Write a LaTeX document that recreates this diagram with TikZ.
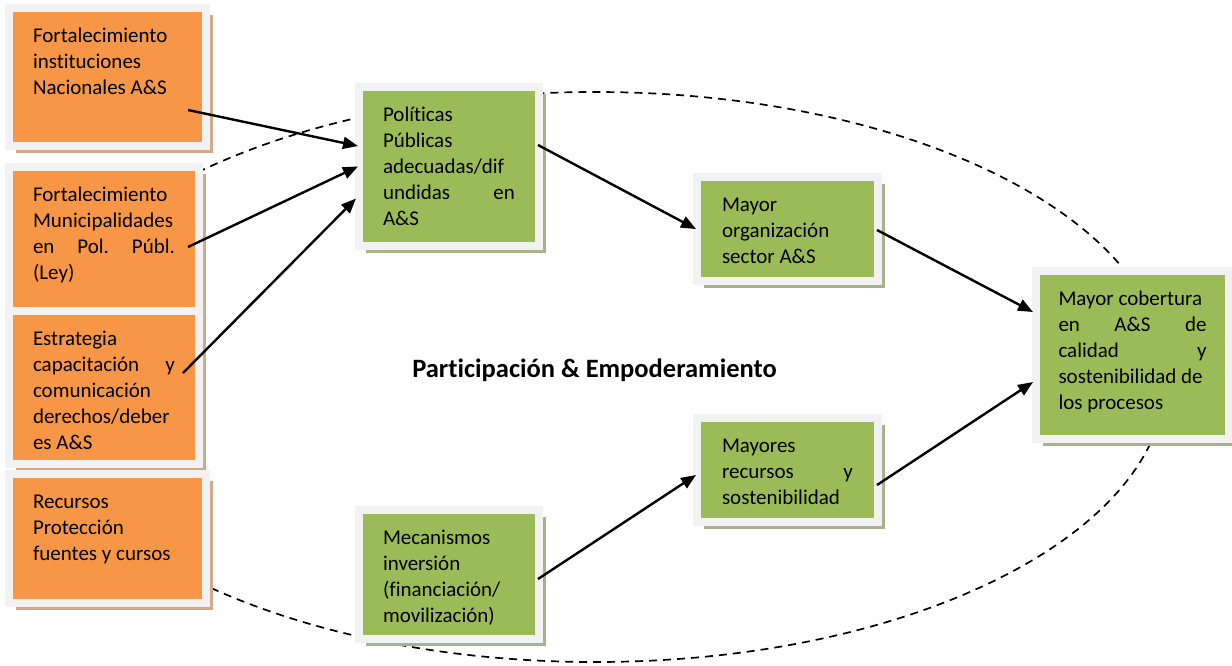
\documentclass[tikz,border=0pt]{standalone}
\usepackage{fontspec}
\setmainfont{Carlito}[Ligatures=NoCommon]
\usepackage{tikz}
\usetikzlibrary{arrows.meta,shadows}

\definecolor{boxorange}{HTML}{F79646}
\definecolor{boxgreen}{HTML}{9BBB59}
\definecolor{framegray}{HTML}{F2F2F2}
\definecolor{shadeorange}{HTML}{D3A98A}
\definecolor{shadegreen}{HTML}{A9B18F}

% text block: width, outer height of the box, lines
\newcommand{\cell}[3]{\parbox[c][\dimexpr#2pt-39.6pt\relax][t]{#1pt}{\strut#3}}

\tikzset{
  card/.style={rectangle, inner sep=0pt, draw=framegray, line width=8pt,
    font=\fontsize{21pt}{26pt}\selectfont},
  orangebox/.style={card, fill=boxorange,
    drop shadow={fill=shadeorange, opacity=1, shadow xshift=7pt, shadow yshift=-7pt}},
  greenbox/.style={card, fill=boxgreen,
    drop shadow={fill=shadegreen, opacity=1, shadow xshift=7pt, shadow yshift=-7pt}},
  flow/.style={line width=2.4pt, -{Triangle[length=15pt,width=12pt]}},
}

\begin{document}
\begin{tikzpicture}[x=1pt, y=-1pt]
    \useasboundingbox (0,0) rectangle (1232,665);
    % dashed field round the process
    \draw[dash pattern=on 8pt off 6pt, line width=1.7pt] (595,377) ellipse [x radius=571pt, y radius=285pt];

    % sources
    \node[orangebox, minimum width=197pt, minimum height=138pt] (fortInst) at (107.5,77)
        {\cell{149}{146}{Fortalecimiento\\instituciones\\Nacionales A\&S}};
    \node[orangebox, minimum width=190pt, minimum height=144pt] (fortMuni) at (104,239)
        {\cell{142}{152}{Fortalecimiento\\Municipalidades\\en\hspace{\fill}Pol.\hspace{\fill}Públ.\\(Ley)}};
    \node[orangebox, minimum width=190pt, minimum height=153pt] (estrategia) at (104,387.5)
        {\cell{142}{161}{Estrategia\\capacitación\hspace{\fill}y\\comunicación\\derechos/deber\\es A\&S}};
    \node[orangebox, minimum width=197pt, minimum height=129pt] (recProt) at (107.5,538.5)
        {\cell{149}{137}{Recursos\\Protección\\fuentes y cursos}};

    % results
    \node[greenbox, minimum width=180pt, minimum height=159pt] (politicas) at (449,166.5)
        {\cell{132}{167}{Políticas\\Públicas\\adecuadas/dif\\undidas\hspace{\fill}en\\A\&S}};
    \node[greenbox, minimum width=181pt, minimum height=104pt] (mayorOrg) at (787.5,229)
        {\cell{131}{112}{Mayor\\organización\\sector A\&S}};
    \node[greenbox, minimum width=180pt, minimum height=129pt] (mecanismos) at (449,574.5)
        {\cell{132}{137}{Mecanismos\\inversión\\(financiación/\\movilización)}};
    \node[greenbox, minimum width=181pt, minimum height=104pt] (mayRec) at (787.5,470)
        {\cell{131}{112}{Mayores\\recursos\hspace{\fill}y\\sostenibilidad}};
    \node[greenbox, minimum width=193pt, minimum height=168pt] (cobertura) at (1132.5,355)
        {\cell{148}{176}{Mayor cobertura\\en\hspace{\fill}A\&S\hspace{\fill}de\\calidad\hspace{\fill}y\\sostenibilidad de\\los procesos}};

    \node[anchor=base, font=\fontsize{26.5pt}{30pt}\selectfont\bfseries] (partEmp) at (594.5,377)
        {Participación \& Empoderamiento};

    \draw[flow] ([shift={(-22pt,-33pt)}]fortInst.east) -- ([shift={(3pt,20.5pt)}]politicas.west);
    \draw[flow] ([shift={(-15pt,-8pt)}]fortMuni.east) -- ([shift={(3pt,0pt)}]politicas.west);
    \draw[flow] ([shift={(-20pt,14.5pt)}]estrategia.east) -- ([shift={(1pt,-32pt)}]politicas.west);
    \draw[flow] ([shift={(-5pt,21.5pt)}]politicas.east) -- ([shift={(3pt,0pt)}]mayorOrg.west);
    \draw[flow] ([shift={(-5pt,-1pt)}]mayorOrg.east) -- ([shift={(1pt,43pt)}]cobertura.west);
    \draw[flow] ([shift={(-5pt,-4.5pt)}]mecanismos.east) -- ([shift={(3pt,-5pt)}]mayRec.west);
    \draw[flow] ([shift={(-5pt,-15pt)}]mayRec.east) -- ([shift={(1pt,-27pt)}]cobertura.west);
\end{tikzpicture}
\end{document}
